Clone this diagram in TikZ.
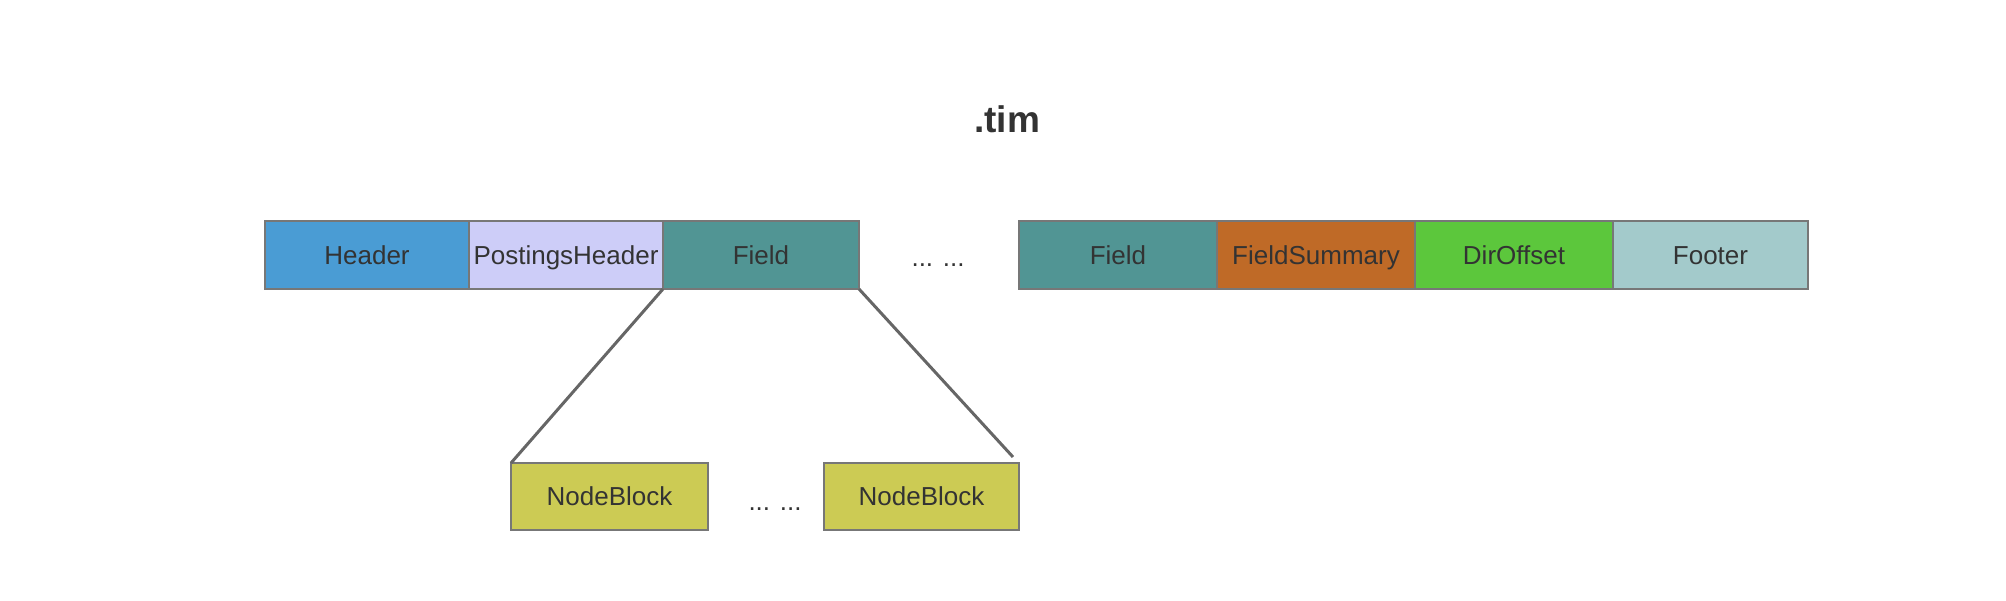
\documentclass[tikz,border=0pt]{standalone}
\usepackage{fontspec}
\setmainfont{Liberation Sans}
\definecolor{bordergray}{HTML}{777777}
\definecolor{conngray}{HTML}{666666}
\definecolor{txt}{HTML}{333333}
\definecolor{cheader}{HTML}{4A9CD4}
\definecolor{cposting}{HTML}{CDCDF8}
\definecolor{cfield}{HTML}{519594}
\definecolor{cfsum}{HTML}{BF6A27}
\definecolor{cdir}{HTML}{5CC73C}
\definecolor{cfooter}{HTML}{A3CACB}
\definecolor{cnode}{HTML}{CCCB54}
\begin{document}
\begin{tikzpicture}[x=1pt,y=-1pt,
  box/.style={draw=bordergray, line width=2pt, minimum height=68pt, inner sep=0pt, outer sep=0pt,
    text=txt, font=\fontsize{26}{30}\selectfont, text height=18.7pt, text depth=0pt},
  conn/.style={draw=conngray, line width=3pt},
  plain/.style={text=txt, font=\fontsize{26}{30}\selectfont, inner sep=0pt, anchor=base}]
\useasboundingbox (0,0) rectangle (2006,600);
\node[text=txt, font=\bfseries\fontsize{37}{42}\selectfont, inner sep=0pt, anchor=base] (title) at (1007,132) {.tim};
\node[box, fill=cheader, minimum width=204pt] (header) at (367,255) {Header};
\node[box, fill=cposting, minimum width=194pt] (postings) at (566,255) {PostingsHeader};
\node[box, fill=cfield, minimum width=196pt] (field1) at (761,255) {Field};
\node[plain] (dots1) at (938,266) {... ...};
\node[box, fill=cfield, minimum width=198pt] (field2) at (1118,255) {Field};
\node[box, fill=cfsum, minimum width=198pt] (fsum) at (1316,255) {FieldSummary};
\node[box, fill=cdir, minimum width=198pt] (diroff) at (1514,255) {DirOffset};
\node[box, fill=cfooter, minimum width=195pt] (footer) at (1710.5,255) {Footer};
\node[box, fill=cnode, minimum width=197pt, minimum height=67pt] (nb1) at (609.5,496.5) {NodeBlock};
\node[plain] (dots2) at (775,510) {... ...};
\node[box, fill=cnode, minimum width=195pt, minimum height=67pt] (nb2) at (921.5,496.5) {NodeBlock};
\coordinate (rend) at (1013,457);
\draw[conn] (postings.south east) -- (nb1.north west);
\draw[conn] (field1.south east) -- (rend);
\end{tikzpicture}
\end{document}
